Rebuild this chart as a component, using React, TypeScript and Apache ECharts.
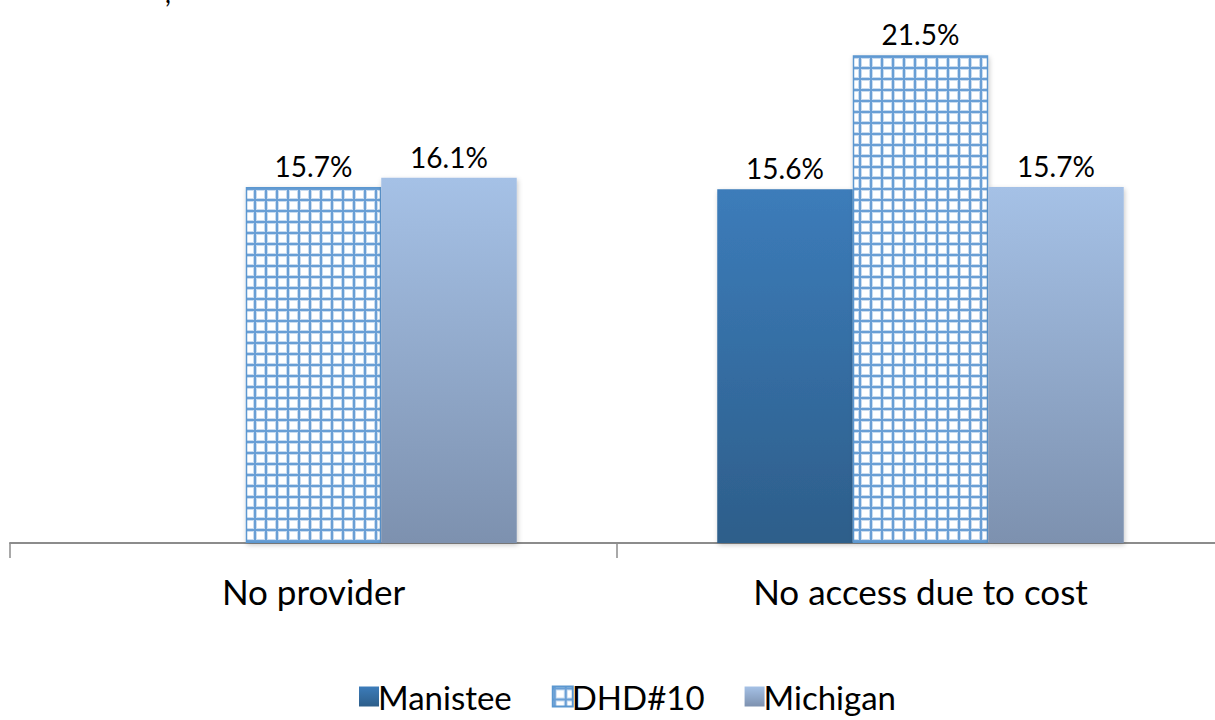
import React, { useEffect, useRef } from "react";
import * as echarts from "echarts";

const categories = ["No provider", "No access due to cost"];
const seriesNames = ["Manistee", "DHD#10", "Michigan"];
const manistee: (number | null)[] = [null, 15.6];
const dhd: (number | null)[] = [15.7, 21.5];
const michigan: (number | null)[] = [16.1, 15.7];

function makePattern(): HTMLCanvasElement {
  const c = document.createElement("canvas");
  const s = 11;
  c.width = s;
  c.height = s;
  const ctx = c.getContext("2d")!;
  ctx.fillStyle = "#ffffff";
  ctx.fillRect(0, 0, s, s);
  ctx.fillStyle = "#c9dcf0";
  ctx.fillRect(0, 0, s, 4);
  ctx.fillRect(0, 0, 4, s);
  ctx.fillStyle = "#6a9fd5";
  ctx.fillRect(0, 1, s, 2);
  ctx.fillRect(1, 0, 2, s);
  return c;
}

export default function App() {
  const ref = useRef<HTMLDivElement>(null);
  useEffect(() => {
    if (!ref.current) return;
    const chart = echarts.init(ref.current, undefined, { renderer: "svg" });
    const pattern = { image: makePattern(), repeat: "repeat" } as any;
    const font = "Lato, 'Open Sans', sans-serif";
    const label = {
      show: true,
      position: "top" as const,
      distance: 7,
      fontSize: 28,
      color: "#000",
      fontFamily: font,
      formatter: (p: any) => (p.value == null ? "" : p.value.toFixed(1) + "%"),
    };
    const shadow = {
      shadowBlur: 5,
      shadowColor: "rgba(0,0,0,0.22)",
      shadowOffsetY: 2,
      shadowOffsetX: 1,
    };
    chart.setOption({
      animation: false,
      textStyle: { fontFamily: font },
      grid: { left: 10, right: 0, top: 44, bottom: 177 },
      xAxis: {
        type: "category",
        data: categories,
        axisLine: { lineStyle: { color: "#8c8c8c", width: 2 } },
        axisTick: { show: true, length: 15, lineStyle: { color: "#8c8c8c", width: 1.5 } },
        axisLabel: { fontSize: 35, color: "#000", margin: 30, fontFamily: font },
      },
      yAxis: {
        type: "value",
        min: 0,
        max: 22,
        show: false,
        splitLine: { show: false },
      },
      legend: {
        left: 354,
        bottom: 2,
        itemWidth: 20,
        itemHeight: 20,
        itemGap: 40,
        icon: "rect",
        textStyle: { fontSize: 33, color: "#000", fontFamily: font, padding: [0, 0, 0, -6] },
        data: seriesNames,
      },
      series: [
        {
          name: seriesNames[0],
          type: "bar",
          data: manistee,
          barWidth: 135.5,
          barGap: "0%",
          label,
          itemStyle: {
            color: new echarts.graphic.LinearGradient(0, 0, 0, 1, [
              { offset: 0, color: "#3c7cba" },
              { offset: 1, color: "#2d5e8a" },
            ]),
            ...shadow,
          },
        },
        {
          name: seriesNames[1],
          type: "bar",
          data: dhd,
          barWidth: 135.5,
          barGap: "0%",
          label,
          itemStyle: {
            color: pattern,
            borderColor: "#5b97d0",
            borderWidth: 1.5,
            ...shadow,
          },
        },
        {
          name: seriesNames[2],
          type: "bar",
          data: michigan,
          barWidth: 135.5,
          barGap: "0%",
          label,
          itemStyle: {
            color: new echarts.graphic.LinearGradient(0, 0, 0, 1, [
              { offset: 0, color: "#a5c1e6" },
              { offset: 1, color: "#7d91af" },
            ]),
            ...shadow,
          },
        },
      ],
      graphic: [
        {
          type: "text",
          left: 165,
          top: -20,
          style: { text: ",", fontSize: 26, fill: "#000", fontFamily: font },
        },
      ],
    });
    return () => chart.dispose();
  }, []);
  return (
    <div style={{ position: "fixed", left: 0, top: 0, width: 1215, height: 720, overflow: "hidden", background: "#fff" }}>
      <div ref={ref} style={{ width: 1224, height: 720 }} />
    </div>
  );
}
